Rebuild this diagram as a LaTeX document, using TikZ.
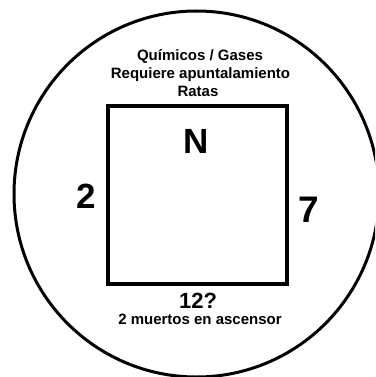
\documentclass[tikz,border=0pt]{standalone}
\usepackage{fontspec}
\setmainfont{Liberation Sans}
\begin{document}
\begin{tikzpicture}[x=1pt,y=-1pt,
  lbl/.style={font=\bfseries\fontsize{15}{18}\selectfont, anchor=base, inner sep=0pt},
  big/.style={font=\bfseries\fontsize{35}{40}\selectfont, anchor=base, inner sep=0pt},
  mid/.style={font=\bfseries\fontsize{22}{26}\selectfont, anchor=base, inner sep=0pt}]
\useasboundingbox (0,0) rectangle (375,377);
\clip (0,0) rectangle (375,377);
\fill[white] (0,0) rectangle (375,377);
\draw[line width=3pt] (196.5,194) ellipse [x radius=182.5, y radius=183];
\draw[line width=4pt] (108,106) rectangle (287,284);
\node[coordinate] (box) at (197.5,195) {};
\node[lbl] (t1) at (200,61) {Químicos / Gases};
\node[lbl] (t2) at (200.5,79) {Requiere apuntalamiento};
\node[lbl] (t3) at (198,97) {Ratas};
\node[big] (n) at (196.5,153) {N};
\node[big] (w) at (86.5,208) {2};
\node[big, font=\bfseries\fontsize{37}{42}\selectfont] (e) at (309,222) {7};
\node[mid] (s) at (198,308) {12?};
\node[lbl] (s2) at (200,324) {2 muertos en ascensor};
\end{tikzpicture}
\end{document}
